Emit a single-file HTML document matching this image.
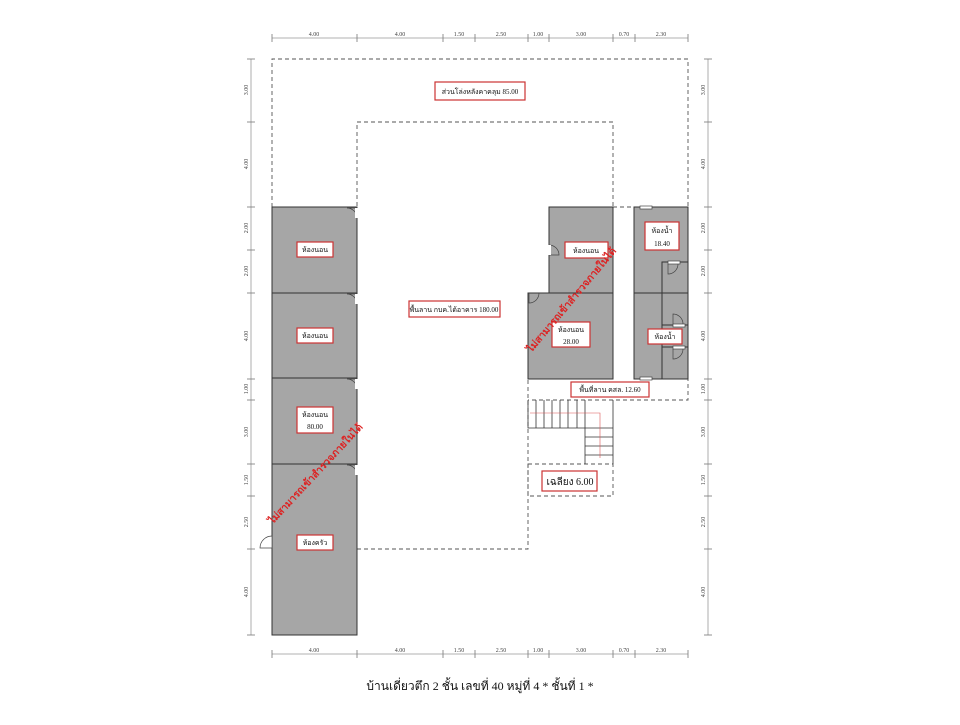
<!DOCTYPE html>
<html><head><meta charset="utf-8"><style>
html,body{margin:0;padding:0;background:#fff;}
svg text{font-family:"Liberation Serif","DejaVu Serif",serif;}
</style></head><body>
<svg width="960" height="720" viewBox="0 0 960 720" xmlns="http://www.w3.org/2000/svg">
<g stroke="#999" stroke-width="0.8" fill="none">
<line x1="272" y1="38" x2="688" y2="38"/>
<line x1="272" y1="654" x2="688" y2="654"/>
<line x1="251" y1="59" x2="251" y2="635"/>
<line x1="708" y1="59" x2="708" y2="635"/>
</g>
<g stroke="#777" stroke-width="0.8">
<g id="tx">
<line x1="272" y1="34" x2="272" y2="42"/><line x1="357" y1="34" x2="357" y2="42"/><line x1="443" y1="34" x2="443" y2="42"/><line x1="475" y1="34" x2="475" y2="42"/><line x1="528" y1="34" x2="528" y2="42"/><line x1="549" y1="34" x2="549" y2="42"/><line x1="613" y1="34" x2="613" y2="42"/><line x1="635" y1="34" x2="635" y2="42"/><line x1="688" y1="34" x2="688" y2="42"/>
</g>
<use href="#tx" transform="translate(0,616)"/>
<g id="ty">
<line x1="247" y1="59" x2="255" y2="59"/><line x1="247" y1="122" x2="255" y2="122"/><line x1="247" y1="207" x2="255" y2="207"/><line x1="247" y1="250" x2="255" y2="250"/><line x1="247" y1="293" x2="255" y2="293"/><line x1="247" y1="379" x2="255" y2="379"/><line x1="247" y1="400" x2="255" y2="400"/><line x1="247" y1="464" x2="255" y2="464"/><line x1="247" y1="496" x2="255" y2="496"/><line x1="247" y1="549" x2="255" y2="549"/><line x1="247" y1="635" x2="255" y2="635"/>
</g>
<use href="#ty" transform="translate(457,0)"/>
</g>
<g font-size="6" fill="#444" text-anchor="middle">
<g id="dtx">
<text x="314" y="36">4.00</text><text x="400" y="36">4.00</text><text x="459" y="36">1.50</text><text x="501" y="36">2.50</text><text x="538" y="36">1.00</text><text x="581" y="36">3.00</text><text x="624" y="36">0.70</text><text x="661" y="36">2.30</text>
</g>
<use href="#dtx" transform="translate(0,616)"/>
<g id="dty">
<text transform="translate(248,90) rotate(-90)">3.00</text><text transform="translate(248,164) rotate(-90)">4.00</text><text transform="translate(248,228) rotate(-90)">2.00</text><text transform="translate(248,271) rotate(-90)">2.00</text><text transform="translate(248,336) rotate(-90)">4.00</text><text transform="translate(248,389) rotate(-90)">1.00</text><text transform="translate(248,432) rotate(-90)">3.00</text><text transform="translate(248,480) rotate(-90)">1.50</text><text transform="translate(248,522) rotate(-90)">2.50</text><text transform="translate(248,592) rotate(-90)">4.00</text>
</g>
<use href="#dty" transform="translate(457,0)"/>
</g>
<g stroke="#555" stroke-width="0.9" fill="none" stroke-dasharray="4,3">
<path d="M272,207 V59 H688 V400 H528"/>
<path d="M357,549 V122 H613 V207"/>
<path d="M357,549 H528 V379"/>
<path d="M613,207 H634"/>
<path d="M528,464 H613 V496 H528 Z"/>
</g>
<g fill="#a6a6a6" stroke="#333" stroke-width="1">
<rect x="272" y="207" width="85" height="428"/>
<path d="M549,207 H613 V379 H528 V293 H549 Z"/>
<rect x="634" y="207" width="54" height="172"/>
</g>
<g stroke="#333" stroke-width="1" fill="none">
<line x1="272" y1="293" x2="357" y2="293"/><line x1="272" y1="378" x2="357" y2="378"/><line x1="272" y1="464" x2="357" y2="464"/>
<line x1="549" y1="293" x2="613" y2="293"/>
<path d="M662,379 V262 H688 M634,293 H688 M662,325 H688 M662,347 H688"/>
</g>
<g stroke="#444" stroke-width="0.7" fill="#fff">
<path d="M357,208 h-10 a10,10 0 0 1 10,10 Z" fill="none"/><rect x="355" y="208" width="4" height="10" stroke="none"/>
<path d="M357,294 h-10 a10,10 0 0 1 10,10" fill="none"/><rect x="355" y="294" width="4" height="10" stroke="none"/>
<path d="M357,379 h-10 a10,10 0 0 1 10,10" fill="none"/><rect x="355" y="379" width="4" height="10" stroke="none"/>
<path d="M357,465 h-10 a10,10 0 0 1 10,10" fill="none"/><rect x="355" y="465" width="4" height="10" stroke="none"/>
<path d="M272,548 h-12 a12,12 0 0 1 12,-12 Z"/>
<path d="M549,255 v-10 a10,10 0 0 1 10,10 Z" fill="none"/><rect x="547" y="245" width="4" height="10" stroke="none"/>
<path d="M529,293 v10 a10,10 0 0 0 10,-10" fill="none"/>
<rect x="640" y="206" width="12" height="3"/><rect x="668" y="261" width="12" height="3"/>
<path d="M668,264 v10 a10,10 0 0 0 10,-10" fill="none"/>
<rect x="673" y="324" width="12" height="3"/><path d="M673,324 v-10 a10,10 0 0 1 10,10" fill="none"/>
<rect x="673" y="346" width="12" height="3"/><path d="M673,349 v10 a10,10 0 0 0 10,-10" fill="none"/>
<rect x="640" y="377" width="12" height="3"/>
</g>
<g stroke="#333" stroke-width="0.8" fill="none">
<path d="M528,400 V428 H585 M585,400 V464 M613,400 V464"/>
<path d="M536,400V428 M544,400V428 M552,400V428 M560,400V428 M568,400V428 M577,400V428"/>
<path d="M585,437H613 M585,446H613 M585,455H613 M585,428H613"/>
</g>
<path d="M530,413 H600 V458" stroke="#d55" stroke-width="0.6" fill="none"/>
<g fill="#fff" stroke="#c33" stroke-width="1.2">
<rect x="435" y="82" width="90" height="18"/>
<rect x="409" y="301" width="91" height="16"/>
<rect x="297" y="242" width="36" height="15"/>
<rect x="297" y="328" width="36" height="15"/>
<rect x="297" y="407" width="36" height="26"/>
<rect x="297" y="535" width="36" height="15"/>
<rect x="565" y="242" width="43" height="16"/>
<rect x="552" y="322" width="38" height="25"/>
<rect x="645" y="222" width="34" height="28"/>
<rect x="648" y="329" width="34" height="15"/>
<rect x="571" y="382" width="78" height="15"/>
<rect x="542" y="471" width="55" height="20"/>
</g>
<g font-size="7" fill="#111" text-anchor="middle">
<text x="480" y="94">ส่วนโล่งหลังคาคลุม 85.00</text>
<text x="454" y="312">พื้นลาน กบค.ได้อาคาร 180.00</text>
<text x="315" y="252">ห้องนอน</text>
<text x="315" y="338">ห้องนอน</text>
<text x="315" y="417">ห้องนอน</text><text x="315" y="429">80.00</text>
<text x="315" y="545">ห้องครัว</text>
<text x="586" y="253">ห้องนอน</text>
<text x="571" y="332">ห้องนอน</text><text x="571" y="344">28.00</text>
<text x="662" y="233">ห้องน้ำ</text><text x="662" y="246">18.40</text>
<text x="665" y="339">ห้องน้ำ</text>
<text x="610" y="392">พื้นที่ลาน คสล. 12.60</text>
<text x="570" y="485" font-size="10">เฉลียง 6.00</text>
<text x="480" y="690" font-size="12">บ้านเดี่ยวตึก 2 ชั้น เลขที่ 40 หมู่ที่ 4 * ชั้นที่ 1 *</text>
</g>
<g font-size="10" fill="#d22" font-weight="bold" text-anchor="middle">
<text transform="translate(318,476) rotate(-47)">ไม่สามารถเข้าสำรวจภายในได้</text>
<text transform="translate(574,302) rotate(-50)">ไม่สามารถเข้าสำรวจภายในได้</text>
</g>
</svg>
</body></html>
